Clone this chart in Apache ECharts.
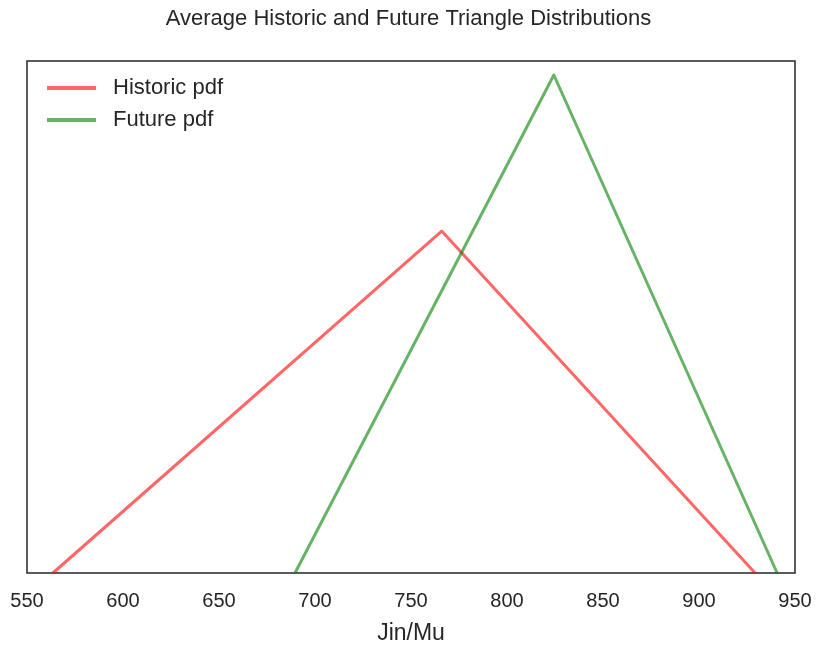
<!DOCTYPE html>
<html>
<head>
<meta charset="utf-8">
<script src="https://cdn.jsdelivr.net/npm/echarts@6/dist/echarts.min.js"></script>
<style>
  html, body { margin: 0; padding: 0; background: #fff; }
  #chart { width: 817px; height: 647px; }
</style>
</head>
<body>
<div id="chart"></div>
<script>
// Triangle distribution vertices: [low, mode, high] and the pdf height at each
const historicX = [563.5, 766, 929.2];
const historicY = [0, 0.005469, 0];
const futureX = [689.6, 824.4, 940.7];
const futureY = [0, 0.007965, 0];
const xTicks = [550, 600, 650, 700, 750, 800, 850, 900, 950];

const pair = (xs, ys) => xs.map((x, i) => [x, ys[i]]);

const chart = echarts.init(document.getElementById('chart'));
const font = '"Liberation Sans", Arial, sans-serif';

chart.setOption({
  animation: false,
  backgroundColor: '#ffffff',
  title: {
    text: 'Average Historic and Future Triangle Distributions',
    left: 'center',
    top: 3,
    textStyle: { fontFamily: font, fontSize: 22, fontWeight: 'normal', color: '#262626' }
  },
  legend: {
    left: 42,
    top: 72,
    orient: 'vertical',
    itemWidth: 49,
    itemHeight: 4,
    itemGap: 10,
    icon: 'rect',
    textStyle: { fontFamily: font, fontSize: 22, color: '#262626', padding: [0, 0, 0, 12] },
    data: ['Historic pdf', 'Future pdf']
  },
  grid: {
    left: 27, right: 22, top: 61, bottom: 74,
    outerBoundsMode: 'none',
    show: true, borderColor: '#262626', borderWidth: 1.5, backgroundColor: 'transparent'
  },
  xAxis: {
    type: 'value',
    min: xTicks[0],
    max: xTicks[xTicks.length - 1],
    interval: 50,
    axisLine: { show: false },
    axisTick: { show: false },
    splitLine: { show: false },
    axisLabel: {
      fontFamily: font, fontSize: 20, color: '#262626', margin: 18,
      formatter: v => xTicks.includes(v) ? String(v) : ''
    },
    name: 'Jin/Mu',
    nameLocation: 'middle',
    nameGap: 49,
    nameTextStyle: { fontFamily: font, fontSize: 23, color: '#262626' }
  },
  yAxis: {
    type: 'value',
    min: 0,
    max: 0.008189,
    axisLine: { show: false },
    axisTick: { show: false },
    axisLabel: { show: false },
    splitLine: { show: false }
  },
  series: [
    {
      name: 'Historic pdf',
      type: 'line',
      data: pair(historicX, historicY),
      symbol: 'none',
      itemStyle: { color: 'rgba(255,0,0,0.6)' },
      lineStyle: { color: 'rgba(255,0,0,0.6)', width: 3, join: 'round' }
    },
    {
      name: 'Future pdf',
      type: 'line',
      data: pair(futureX, futureY),
      symbol: 'none',
      itemStyle: { color: 'rgba(0,128,0,0.6)' },
      lineStyle: { color: 'rgba(0,128,0,0.6)', width: 3, join: 'round' }
    }
  ]
});
</script>
</body>
</html>
